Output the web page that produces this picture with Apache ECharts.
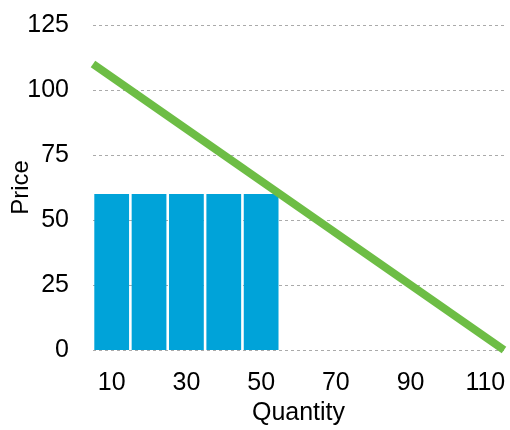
<!DOCTYPE html>
<html>
<head>
<meta charset="utf-8">
<script src="https://cdn.jsdelivr.net/npm/echarts@6/dist/echarts.min.js"></script>
<style>
  html, body { margin: 0; padding: 0; background: #fff; }
  #chart { width: 510px; height: 430px; }
</style>
</head>
<body>
<div id="chart"></div>
<script>
// quantities for each bar (centres), each one 10 units wide
const barQuantities = [10, 20, 30, 40, 50];
const barPrices = [60, 60, 60, 60, 60];
// demand line end points
const lineQuantities = [5, 115];
const linePrices = [110, 0];
const xTicks = [10, 30, 50, 70, 90, 110];
const barHalfWidth = 5;

const chart = echarts.init(document.getElementById("chart"));

const textStyle = { fontFamily: "Liberation Sans", fontSize: 25, color: "#000" };

chart.setOption({
    animation: false,
    grid: { left: 93, right: 6, top: 25, bottom: 80, outerBoundsMode: "none", containLabel: false },
    xAxis: {
        type: "value",
        min: 5,
        max: 115,
        name: "Quantity",
        nameLocation: "middle",
        nameGap: 48,
        nameTextStyle: Object.assign({}, textStyle, { fontSize: 25 }),
        axisLine: { show: false },
        axisTick: { show: false },
        splitLine: { show: false },
        axisLabel: Object.assign({}, textStyle, {
            margin: 21,
            customValues: xTicks
        })
    },
    yAxis: {
        type: "value",
        min: 0,
        max: 125,
        interval: 25,
        name: "Price",
        nameLocation: "middle",
        nameGap: 60,
        nameMoveOverlap: false,
        nameTextStyle: Object.assign({}, textStyle, { fontSize: 24 }),
        axisLine: { show: false },
        axisTick: { show: false },
        axisLabel: Object.assign({}, textStyle, { margin: 24 }),
        splitLine: { lineStyle: { color: "#aaa", type: [3, 3], width: 1 } }
    },
    series: [
        {
            type: "custom",
            data: barQuantities.map((q, i) => [q, barPrices[i]]),
            renderItem: (params, api) => {
                const q = api.value(0);
                const p = api.value(1);
                const topLeft = api.coord([q - barHalfWidth, p]);
                const bottomRight = api.coord([q + barHalfWidth, 0]);
                const gap = 1.3;
                return {
                    type: "rect",
                    shape: {
                        x: topLeft[0] + gap,
                        y: topLeft[1],
                        width: bottomRight[0] - topLeft[0] - gap * 2,
                        height: bottomRight[1] - topLeft[1]
                    },
                    style: { fill: "#00a3d9" }
                };
            },
            z: 2
        },
        {
            type: "line",
            data: lineQuantities.map((q, i) => [q, linePrices[i]]),
            symbol: "none",
            lineStyle: { color: "#6dbd45", width: 8 },
            z: 3
        }
    ]
});
</script>
</body>
</html>
